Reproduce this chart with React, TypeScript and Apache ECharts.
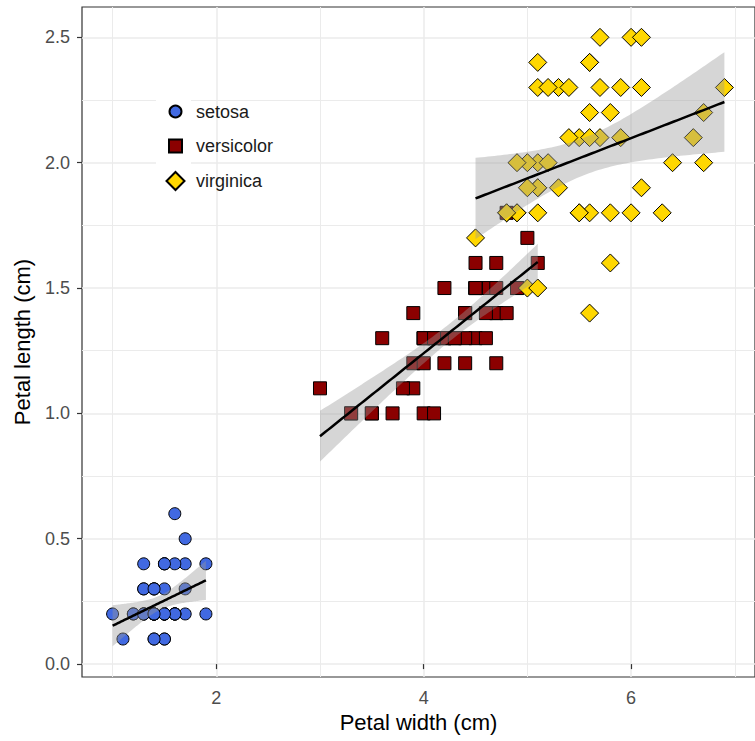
import React, { useEffect, useRef } from 'react';
import * as echarts from 'echarts';

const FONT = '"Liberation Sans", Arial, Helvetica, sans-serif';

// Iris petal measurements (x: values on the horizontal axis, y: values on the vertical axis)
const setosaX = [1.4,1.4,1.3,1.5,1.4,1.7,1.4,1.5,1.4,1.5, 1.5,1.6,1.4,1.1,1.2,1.5,1.3,1.4,1.7,1.5, 1.7,1.5,1.0,1.7,1.9,1.6,1.6,1.5,1.4,1.6, 1.6,1.5,1.5,1.4,1.5,1.2,1.3,1.4,1.3,1.5, 1.3,1.3,1.3,1.6,1.9,1.4,1.6,1.4,1.5,1.4];
const setosaY = [0.2,0.2,0.2,0.2,0.2,0.4,0.3,0.2,0.2,0.1, 0.2,0.2,0.1,0.1,0.2,0.4,0.4,0.3,0.3,0.3, 0.2,0.4,0.2,0.5,0.2,0.2,0.4,0.2,0.2,0.2, 0.2,0.4,0.1,0.2,0.2,0.2,0.2,0.1,0.2,0.2, 0.3,0.3,0.2,0.6,0.4,0.3,0.2,0.2,0.2,0.2];
const versicolorX = [4.7,4.5,4.9,4.0,4.6,4.5,4.7,3.3,4.6,3.9, 3.5,4.2,4.0,4.7,3.6,4.4,4.5,4.1,4.5,3.9, 4.8,4.0,4.9,4.7,4.3,4.4,4.8,5.0,4.5,3.5, 3.8,3.7,3.9,5.1,4.5,4.5,4.7,4.4,4.1,4.0, 4.4,4.6,4.0,3.3,4.2,4.2,4.2,4.3,3.0,4.1];
const versicolorY = [1.4,1.5,1.5,1.3,1.5,1.3,1.6,1.0,1.3,1.4, 1.0,1.5,1.0,1.4,1.3,1.4,1.5,1.0,1.5,1.1, 1.8,1.3,1.5,1.2,1.3,1.4,1.4,1.7,1.5,1.0, 1.1,1.0,1.2,1.6,1.5,1.6,1.5,1.3,1.3,1.3, 1.2,1.4,1.2,1.0,1.3,1.2,1.3,1.3,1.1,1.3];
const virginicaX = [6.0,5.1,5.9,5.6,5.8,6.6,4.5,6.3,5.8,6.1, 5.1,5.3,5.5,5.0,5.1,5.3,5.5,6.7,6.9,5.0, 5.7,4.9,6.7,4.9,5.7,6.0,4.8,4.9,5.6,5.8, 6.1,6.4,5.6,5.1,5.6,6.1,5.6,5.5,4.8,5.4, 5.6,5.1,5.1,5.9,5.7,5.2,5.0,5.2,5.4,5.1];
const virginicaY = [2.5,1.9,2.1,1.8,2.2,2.1,1.7,1.8,1.8,2.5, 2.0,1.9,2.1,2.0,2.4,2.3,1.8,2.2,2.3,1.5, 2.3,2.0,2.0,1.8,2.1,1.8,1.8,1.8,2.1,1.6, 1.9,2.0,2.2,1.5,1.4,2.3,2.4,1.8,1.8,2.1, 2.4,2.3,1.9,2.3,2.5,2.3,1.9,2.0,2.3,1.8];

const speciesNames = ['setosa', 'versicolor', 'virginica'];
const xTickValues = [2, 4, 6];
const yTickValues = [0, 0.5, 1, 1.5, 2, 2.5];

const T_975_DF48 = 2.010635; // t quantile for 95% CI with n = 50

function linearFit(xs: number[], ys: number[]) {
  const n = xs.length;
  const mx = xs.reduce((s, v) => s + v, 0) / n;
  const my = ys.reduce((s, v) => s + v, 0) / n;
  let sxx = 0, sxy = 0;
  for (let i = 0; i < n; i++) {
    sxx += (xs[i] - mx) * (xs[i] - mx);
    sxy += (xs[i] - mx) * (ys[i] - my);
  }
  const b = sxy / sxx;
  const a = my - b * mx;
  let sse = 0;
  for (let i = 0; i < n; i++) {
    const r = ys[i] - (a + b * xs[i]);
    sse += r * r;
  }
  const s = Math.sqrt(sse / (n - 2));
  const xmin = Math.min(...xs), xmax = Math.max(...xs);
  const out: number[][] = [];
  const steps = 80;
  for (let i = 0; i < steps; i++) {
    const x = xmin + ((xmax - xmin) * i) / (steps - 1);
    const y = a + b * x;
    const se = s * Math.sqrt(1 / n + ((x - mx) * (x - mx)) / sxx);
    out.push([x, y, y - T_975_DF48 * se, y + T_975_DF48 * se]);
  }
  return out;
}

export default function App() {
  const ref = useRef<HTMLDivElement>(null);
  useEffect(() => {
    document.body.style.margin = '0';
    if (!ref.current) return;
    const chart = echarts.init(ref.current, undefined, { renderer: 'svg' });

    const groups = [
      { name: 'setosa', xs: setosaX, ys: setosaY, symbol: 'circle', size: 12, color: '#4169E1' },
      { name: 'versicolor', xs: versicolorX, ys: versicolorY, symbol: 'rect', size: 13, color: '#8B0000' },
      { name: 'virginica', xs: virginicaX, ys: virginicaY, symbol: 'diamond', size: 18, color: '#FFD700' },
    ];

    const scatterSeries = groups.map((g) => ({
      name: g.name,
      type: 'scatter',
      symbol: g.symbol,
      symbolSize: g.size,
      data: g.xs.map((x, i) => [x, g.ys[i]]),
      itemStyle: { color: g.color, borderColor: '#000', borderWidth: 1, opacity: 1 },
      emphasis: { disabled: true },
      z: 2,
    }));

    const fitSeries: any[] = [];
    groups.forEach((g) => {
      const band = linearFit(g.xs, g.ys);
      fitSeries.push({
        name: g.name + ' band',
        type: 'custom',
        silent: true,
        z: 3,
        data: band,
        encode: { x: 0, y: [2, 3] },
        renderItem: (params: any, api: any) => {
          if (params.dataIndex !== 0) return null;
          const up = band.map((p) => api.coord([p[0], p[3]]));
          const lo = band.map((p) => api.coord([p[0], p[2]])).reverse();
          return {
            type: 'polygon',
            shape: { points: up.concat(lo) },
            style: { fill: 'rgba(153,153,153,0.4)', stroke: 'none' },
          };
        },
      });
      fitSeries.push({
        name: g.name + ' fit',
        type: 'line',
        silent: true,
        z: 3,
        showSymbol: false,
        data: band.map((p) => [p[0], p[1]]),
        lineStyle: { color: '#000', width: 2.5 },
        emphasis: { disabled: true },
      });
    });

    // legend keys centred at x = 174.5, label text starting at x = 195
    const legendCentersY = [111.5, 146, 180];
    const legendSizes = [12, 13, 18];
    const legends = speciesNames.map((name, i) => {
      const s = legendSizes[i];
      return {
        data: [name],
        orient: 'vertical',
        left: 174.5 - s / 2,
        top: legendCentersY[i] - 9,
        padding: 0,
        itemWidth: s,
        itemHeight: s,
        selectedMode: false,
        textStyle: {
          fontFamily: FONT, fontSize: 18, color: '#1a1a1a', lineHeight: 18,
          padding: [0, 0, 0, 15.5 - s / 2],
        },
      };
    });

    const option: any = {
      animation: false,
      backgroundColor: '#ffffff',
      textStyle: { fontFamily: FONT },
      grid: {
        left: 82, top: 7, right: -2, bottom: 64,
        show: true, borderColor: '#333333', borderWidth: 1.2, backgroundColor: 'transparent',
      },
      legend: legends,
      graphic: [
        { type: 'rect', z: 1, shape: { x: 156, y: 94, width: 35, height: 104 }, style: { fill: '#ffffff' }, silent: true },
      ],
      xAxis: {
        type: 'value', min: 0.705, max: 7.195, splitNumber: 3,
        axisLine: { show: false },
        axisTick: { show: true, length: 5, customValues: xTickValues, lineStyle: { color: '#333333', width: 1.2 } },
        axisLabel: { customValues: xTickValues, color: '#4d4d4d', fontSize: 18, fontFamily: FONT, margin: 12 },
        splitLine: { show: true, lineStyle: { color: '#ebebeb', width: 1.5 } },
        minorTick: { show: false, splitNumber: 2 },
        minorSplitLine: { show: true, lineStyle: { color: '#ebebeb', width: 1 } },
        name: 'Petal width (cm)', nameLocation: 'middle', nameGap: 33,
        nameTextStyle: { color: '#000', fontSize: 22, fontFamily: FONT },
      },
      yAxis: {
        type: 'value', min: -0.0515, max: 2.621, splitNumber: 5,
        axisLine: { show: false },
        axisTick: { show: true, length: 5, customValues: yTickValues, lineStyle: { color: '#333333', width: 1.2 } },
        axisLabel: {
          customValues: yTickValues, color: '#4d4d4d', fontSize: 18, fontFamily: FONT, margin: 12,
          formatter: (v: number) => v.toFixed(1),
        },
        splitLine: { show: true, lineStyle: { color: '#ebebeb', width: 1.5 } },
        minorTick: { show: false, splitNumber: 2 },
        minorSplitLine: { show: true, lineStyle: { color: '#ebebeb', width: 1 } },
        name: 'Petal length (cm)', nameLocation: 'middle', nameGap: 49,
        nameTextStyle: { color: '#000', fontSize: 22, fontFamily: FONT },
      },
      series: [...scatterSeries, ...fitSeries],
    };
    chart.setOption(option);
    return () => chart.dispose();
  }, []);
  return <div ref={ref} style={{ width: 755, height: 741 }} />;
}
